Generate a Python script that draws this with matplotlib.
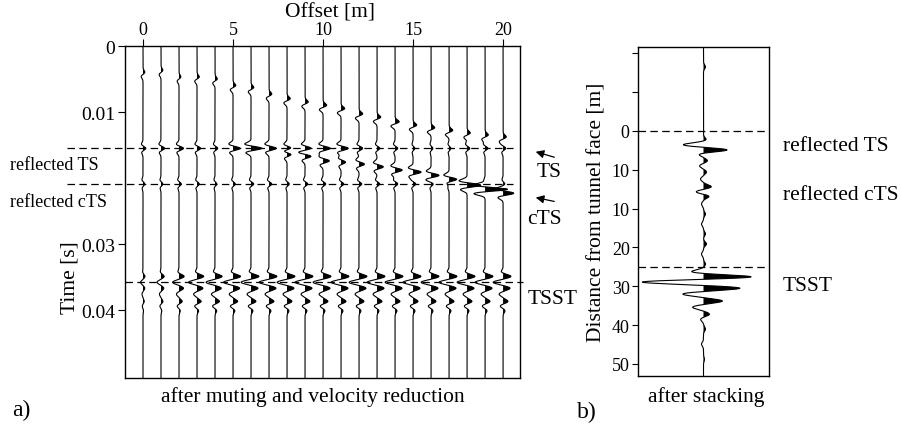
import numpy as np
import matplotlib.pyplot as plt

plt.rcParams['font.family'] = ['Liberation Serif', 'DejaVu Serif']

W, H = 901, 427

# ---- a) gathers after muting and velocity reduction ----
offsets = list(range(0, 21))

# early small arrival, time [s] and amplitude [px] per trace
early_t = [0.0040, 0.0037, 0.0047, 0.0047, 0.0050, 0.0060, 0.0063, 0.0073, 0.0080, 0.0085,
           0.0090, 0.0095, 0.0103, 0.0108, 0.0115, 0.0120, 0.0124, 0.0128, 0.0132, 0.0135, 0.0138]
early_amp = [2, 2, 2, 2.5, 2.5, 3, 3, 3, 3.5, 3.5, 4, 4, 4, 4, 4.5, 4, 4, 4, 3.5, 3.5, 3.5]

# reflected TS (flat event)
ts_time = 0.0155
ts_amp = [3, 4, 5, 4, 3, 8, 12, 8, 6, 7, 8, 8, 4, 3, 3, 2, 2, 2, 3, 3, 3]

# dipping event (TS moving down to cTS)
dip_offsets = [8, 9, 10, 11, 12, 13, 14, 15, 16, 17, 18, 19, 20]
dip_t = [0.0164, 0.0167, 0.0174, 0.0176, 0.0179, 0.0183, 0.0188, 0.0191, 0.0196, 0.0202,
         0.0211, 0.0217, 0.0223]
dip_amp = [6, 7, 7, 5, 6, 7, 8, 9, 9, 10, 14, 26, 12]

# reflected cTS (flat event)
cts_time = 0.0209
cts_amp = [2, 2, 2.5, 2.5, 2, 2.5, 3, 3, 2.5, 3, 3, 3, 3, 3, 3, 3, 2.5, 2.5, 2, 2, 2]

# TSST event
tsst_time = 0.0358
tsst_gain = [0.25, 0.4, 0.65, 0.85, 0.9, 0.95, 1, 1, 1, 1, 1, 1, 1, 1, 1, 1, 1, 1, 1, 1, 1]

# lobe shapes (relative time [s], relative amplitude)
event_dt = [-0.0006, 0.0, 0.0006]
event_a = [-0.6, 1.0, -0.5]
early_dt = [0.0, 0.0006]
early_a = [1.0, -1.0]
tsst_dt = [-0.0016, -0.0009, 0.0, 0.0009, 0.0018, 0.0029, 0.0036, 0.0043]
tsst_a = [-2, 8, -10, 7, -4, 5, -3, 2]

# ---- b) after stacking: position and amplitude [px] of each lobe ----
stack_u = [-16.5, 2.3, 3.6, 4.9, 5.9, 7.7, 9.0, 10.6, 12.4, 14.4, 15.7, 16.8, 18.8, 21.4,
           24.0, 26.5, 29.1, 31.7, 34.3, 36.3, 37.6, 38.9, 40.5, 42.0, 43.8, 45.4, 47.2,
           48.5, 51.0, 54.9, 58.8]
stack_amp = [2, 3, -21, 25, -6, 4, -4, 3, -3, 8, -8, 6, -2, 2, -2, 2, 3, -2, 2, -13, 50,
             -63, 37, -21, 19, -11, 6, -3, 2, -2, 1]
stack_ticks = [-20, -10, 0, 10, 20, 30, 40, 50, 60]
stack_labels = ['', '', '0', '10', '10', '20', '30', '40', '50']


def lobes(t, centres, amps, width):
    s = np.zeros_like(t)
    for c, a in zip(centres, amps):
        s += a * np.exp(-0.5 * ((t - c) / width) ** 2)
    return s


def px(x, y):
    return x / W, 1 - y / H


fig = plt.figure(figsize=(W / 100, H / 100), dpi=100)
ax1 = fig.add_axes([125 / W, 1 - 379 / H, 395 / W, 332 / H])
ax2 = fig.add_axes([638 / W, 1 - 377 / H, 131 / W, 329 / H])

t = np.linspace(0, 0.0503, 4000)
for i, off in enumerate(offsets):
    cen, amp = [], []
    for dt, a in zip(early_dt, early_a):
        cen.append(early_t[i] + dt)
        amp.append(early_amp[i] * a)
    for dt, a in zip(event_dt, event_a):
        cen.append(ts_time + dt)
        amp.append(ts_amp[i] * a)
        cen.append(cts_time + dt)
        amp.append(cts_amp[i] * a)
    if off in dip_offsets:
        k = dip_offsets.index(off)
        for dt, a in zip(event_dt, event_a):
            cen.append(dip_t[k] + dt)
            amp.append(dip_amp[k] * a)
    for dt, a in zip(tsst_dt, tsst_a):
        cen.append(tsst_time + dt)
        amp.append(tsst_gain[i] * a)
    s = lobes(t, cen, amp, 0.00028) / 18.0
    ax1.plot(off + s, t, color='k', lw=0.8)
    ax1.fill_betweenx(t, off, off + s, where=s > 0, color='k', lw=0, interpolate=True)

ax1.set_xlim(-1, 20.94)
ax1.set_ylim(0.0503, 0)
ax1.xaxis.tick_top()
ax1.set_xticks([0, 5, 10, 15, 20])
ax1.set_yticks([0, 0.01, 0.03, 0.04])
ax1.set_yticklabels(['0', '0.01', '0.03', '0.04'], fontsize=14)
ax1.tick_params(axis='x', labelsize=13, length=5, pad=1)
ax1.tick_params(axis='y', length=5, pad=2)

dash = (0, (6, 3.5))
yx = ax1.get_yaxis_transform()
for tt in (ts_time, cts_time):
    ax1.plot([-0.147, 0.982], [tt, tt], color='k', lw=0.9, ls=dash, transform=yx, clip_on=False)
ax1.plot([0, 1.008], [tsst_time, tsst_time], color='k', lw=0.9, ls=dash, transform=yx, clip_on=False)

# stacked trace
u = np.linspace(-21.6, 63.1, 3000)
s = lobes(u, stack_u, stack_amp, 0.5) / 65.5
ax2.plot(s, u, color='k', lw=0.8)
ax2.fill_betweenx(u, 0, s, where=s > 0, color='k', lw=0, interpolate=True)
ax2.set_xlim(-1, 1)
ax2.set_ylim(63.1, -21.6)
ax2.set_xticks([])
ax2.set_yticks(stack_ticks)
ax2.set_yticklabels(stack_labels, fontsize=13)
ax2.tick_params(axis='y', length=4, pad=2)
ax2.axhline(0, color='k', lw=0.9, ls=dash)
ax2.axhline(35, color='k', lw=0.9, ls=dash)

for ax in (ax1, ax2):
    for sp in ax.spines.values():
        sp.set_linewidth(1.0)

# texts
fig.text(*px(330, 13), 'Offset [m]', ha='center', va='center', fontsize=15.5)
fig.text(*px(70, 278), 'Time [s]', ha='center', va='center', fontsize=15.5, rotation=90)
fig.text(*px(10, 165), 'reflected TS', ha='left', va='center', fontsize=13)
fig.text(*px(10, 203), 'reflected cTS', ha='left', va='center', fontsize=13)
fig.text(*px(549, 173), 'TS', ha='center', va='center', fontsize=15.5)
fig.text(*px(544, 220), 'cTS', ha='center', va='center', fontsize=15.5)
fig.text(*px(528, 300), 'TSST', ha='left', va='center', fontsize=15.5)
fig.text(*px(313, 397), 'after muting and velocity reduction', ha='center', va='center', fontsize=15.5)
fig.text(*px(12, 410), 'a)', ha='left', va='center', fontsize=17)

fig.text(*px(597, 212), 'Distance from tunnel face [m]', ha='center', va='center',
         fontsize=15.5, rotation=90)
fig.text(*px(783, 147), 'reflected TS', ha='left', va='center', fontsize=15.5)
fig.text(*px(783, 195), 'reflected cTS', ha='left', va='center', fontsize=15.5)
fig.text(*px(783, 287), 'TSST', ha='left', va='center', fontsize=15.5)
fig.text(*px(706, 397), 'after stacking', ha='center', va='center', fontsize=15.5)
fig.text(*px(577, 412), 'b)', ha='left', va='center', fontsize=17)

for tail, head in (((557, 159), (533, 152)), ((557, 203), (533, 198))):
    ax1.annotate('', xy=px(*head), xytext=px(*tail), xycoords='figure fraction',
                 textcoords='figure fraction', annotation_clip=False,
                 arrowprops=dict(arrowstyle='-|>', color='k', lw=0.9, mutation_scale=12))

fig.savefig('out.png', dpi=100)
